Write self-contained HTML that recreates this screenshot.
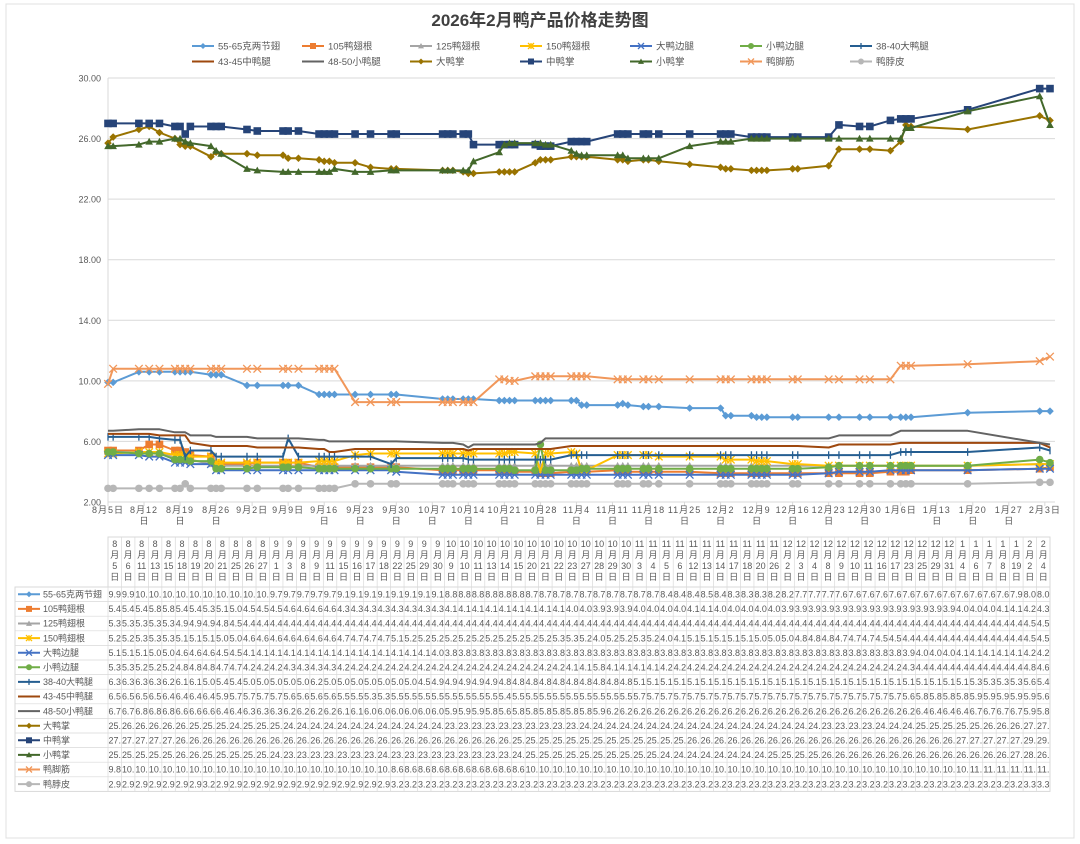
<!DOCTYPE html>
<html><head><meta charset="utf-8">
<style>
body{margin:0;background:#fff;font-family:"Liberation Sans","Noto Sans CJK SC",sans-serif;}
#wrap{position:relative;width:1080px;height:844px;overflow:hidden;}
</style></head>
<body>
<div id="wrap">
<svg id="svg" width="1080" height="844" xmlns="http://www.w3.org/2000/svg"></svg>
</div>
<script>
const dateLabels=["8/5","8/6","8/11","8/13","8/15","8/18","8/19","8/20","8/21","8/25","8/26","8/27","9/1","9/3","9/8","9/9","9/11","9/15","9/16","9/17","9/18","9/22","9/25","9/29","9/30","10/9","10/10","10/11","10/13","10/14","10/15","10/20","10/21","10/22","10/23","10/27","10/28","10/29","10/30","11/3","11/4","11/5","11/6","11/12","11/13","11/14","11/17","11/18","11/20","11/26","12/2","12/3","12/4","12/8","12/9","12/10","12/11","12/16","12/17","12/23","12/25","12/29","12/31","1/4","1/6","1/7","1/8","1/19","2/2","2/4"];
const seriesNames=["55-65克两节翅","105鸭翅根","125鸭翅根","150鸭翅根","大鸭边腿","小鸭边腿","38-40大鸭腿","43-45中鸭腿","48-50小鸭腿","大鸭掌","中鸭掌","小鸭掌","鸭脚筋","鸭脖皮"];
const s5565=[9.9,9.9,10.6,10.6,10.6,10.6,10.6,10.6,10.6,10.4,10.4,10.4,9.7,9.7,9.7,9.7,9.7,9.1,9.1,9.1,9.1,9.1,9.1,9.1,9.1,8.8,8.8,8.8,8.8,8.8,8.8,8.7,8.7,8.7,8.7,8.7,8.7,8.7,8.7,8.7,8.7,8.4,8.4,8.4,8.5,8.4,8.3,8.3,8.3,8.2,8.2,7.7,7.7,7.7,7.6,7.6,7.6,7.6,7.6,7.6,7.6,7.6,7.6,7.6,7.6,7.6,7.6,7.9,8.0,8.0];
const s105=[5.4,5.4,5.4,5.8,5.8,5.4,5.4,5.3,5.1,5.0,4.5,4.5,4.5,4.6,4.6,4.6,4.6,4.3,4.3,4.3,4.3,4.3,4.3,4.3,4.3,4.1,4.1,4.1,4.1,4.1,4.1,4.1,4.1,4.1,4.0,4.0,3.9,3.9,3.9,4.0,4.0,4.0,4.0,4.1,4.1,4.0,4.0,4.0,4.0,4.0,3.9,3.9,3.9,3.9,3.9,3.9,3.9,3.9,3.9,3.9,3.9,3.9,3.9,4.0,4.0,4.0,4.1,4.1,4.2,4.3];
const s125=[5.3,5.3,5.3,5.3,5.3,4.9,4.9,4.9,4.8,4.5,4.4,4.4,4.4,4.4,4.4,4.4,4.4,4.4,4.4,4.4,4.4,4.4,4.4,4.4,4.4,4.4,4.4,4.4,4.4,4.4,4.4,4.4,4.4,4.4,4.4,4.4,4.4,4.4,4.4,4.4,4.4,4.4,4.4,4.4,4.4,4.4,4.4,4.4,4.4,4.4,4.4,4.4,4.4,4.4,4.4,4.4,4.4,4.4,4.4,4.4,4.4,4.4,4.4,4.4,4.4,4.4,4.4,4.4,4.5,4.5];
const s150=[5.2,5.2,5.3,5.3,5.3,5.1,5.1,5.1,5.0,5.0,4.6,4.6,4.6,4.6,4.6,4.6,4.6,4.7,4.7,4.7,4.7,5.1,5.2,5.2,5.2,5.2,5.2,5.2,5.2,5.2,5.2,5.2,5.2,5.3,5.3,5.2,4.0,5.2,5.2,5.3,5.2,4.0,4.1,5.1,5.1,5.1,5.1,5.1,5.0,5.0,5.0,4.8,4.8,4.8,4.7,4.7,4.7,4.5,4.5,4.4,4.4,4.4,4.4,4.4,4.4,4.4,4.4,4.4,4.5,4.5];
const sBigSide=[5.1,5.1,5.1,5.0,5.0,4.6,4.6,4.6,4.5,4.5,4.1,4.1,4.1,4.1,4.1,4.1,4.1,4.1,4.1,4.1,4.1,4.1,4.1,4.1,4.0,3.8,3.8,3.8,3.8,3.8,3.8,3.8,3.8,3.8,3.8,3.8,3.8,3.8,3.8,3.8,3.8,3.8,3.8,3.8,3.8,3.8,3.8,3.8,3.8,3.8,3.8,3.8,3.8,3.8,3.8,3.8,3.8,3.8,3.8,3.9,4.0,4.0,4.0,4.1,4.1,4.1,4.1,4.1,4.2,4.2];
const sSmallSide=[5.3,5.3,5.2,5.2,5.2,4.8,4.8,4.8,4.7,4.7,4.2,4.2,4.2,4.3,4.3,4.3,4.3,4.2,4.2,4.2,4.2,4.2,4.2,4.2,4.2,4.2,4.2,4.2,4.2,4.2,4.2,4.2,4.2,4.2,4.1,4.1,5.8,4.1,4.1,4.1,4.1,4.2,4.2,4.2,4.2,4.2,4.2,4.2,4.2,4.2,4.2,4.2,4.2,4.2,4.2,4.2,4.2,4.2,4.2,4.3,4.4,4.4,4.4,4.4,4.4,4.4,4.4,4.4,4.8,4.6];
const s3840=[6.3,6.3,6.3,6.3,6.2,6.1,6.1,5.0,5.4,5.4,5.0,5.0,5.0,5.0,5.0,6.2,5.0,5.0,5.0,5.0,5.0,5.0,5.0,4.5,4.9,4.9,4.9,4.9,4.9,4.8,4.8,4.8,4.8,4.8,4.8,4.8,4.8,4.8,4.8,5.1,5.1,5.1,5.1,5.1,5.1,5.1,5.1,5.1,5.1,5.1,5.1,5.1,5.1,5.1,5.1,5.1,5.1,5.1,5.1,5.1,5.1,5.1,5.1,5.1,5.3,5.3,5.3,5.3,5.6,5.4];
const s4345=[6.5,6.5,6.5,6.5,6.4,6.4,6.4,6.4,5.9,5.7,5.7,5.7,5.7,5.6,5.6,5.6,5.6,5.5,5.5,5.3,5.3,5.5,5.5,5.5,5.5,5.5,5.5,5.5,5.5,5.4,5.5,5.5,5.5,5.5,5.5,5.5,5.5,5.5,5.5,5.7,5.7,5.7,5.7,5.7,5.7,5.7,5.7,5.7,5.7,5.7,5.7,5.7,5.7,5.7,5.7,5.7,5.7,5.7,5.7,5.6,5.8,5.8,5.8,5.8,5.9,5.9,5.9,5.9,5.9,5.6];
const s4850=[6.7,6.7,6.8,6.8,6.8,6.6,6.6,6.6,6.4,6.4,6.3,6.3,6.3,6.2,6.2,6.2,6.2,6.1,6.1,6.0,6.0,6.0,6.0,6.0,6.0,5.9,5.9,5.9,5.8,5.6,5.8,5.8,5.8,5.8,5.8,5.8,5.9,6.2,6.2,6.2,6.2,6.2,6.2,6.2,6.2,6.2,6.2,6.2,6.2,6.2,6.2,6.2,6.2,6.2,6.2,6.2,6.2,6.2,6.2,6.2,6.4,6.4,6.4,6.4,6.7,6.7,6.7,6.7,5.9,5.8];
const sBigPaw=[25.7,26.1,26.6,26.8,26.4,26.0,25.6,25.5,25.5,24.8,25.1,25.0,25.0,24.9,24.9,24.7,24.7,24.6,24.5,24.5,24.4,24.4,24.1,24.0,24.0,23.9,23.9,23.9,23.8,23.7,23.7,23.8,23.8,23.8,23.8,24.4,24.6,24.6,24.6,24.8,24.8,24.8,24.8,24.6,24.6,24.5,24.6,24.6,24.5,24.3,24.1,24.0,24.0,23.9,23.9,23.9,23.9,24.0,24.0,24.2,25.3,25.3,25.3,25.2,25.8,26.9,26.8,26.6,27.5,27.2];
const sMidPaw=[27.0,27.0,27.0,27.0,27.0,26.8,26.8,26.3,26.8,26.8,26.8,26.8,26.6,26.5,26.5,26.5,26.5,26.3,26.3,26.3,26.3,26.3,26.3,26.3,26.3,26.3,26.3,26.3,26.3,26.3,25.6,25.6,25.6,25.6,25.6,25.6,25.5,25.5,25.5,25.8,25.8,25.8,25.8,26.3,26.3,26.3,26.3,26.3,26.3,26.3,26.3,26.3,26.3,26.1,26.1,26.1,26.1,26.1,26.1,26.1,26.9,26.8,26.8,27.2,27.3,27.3,27.3,27.9,29.3,29.3];
const sSmallPaw=[25.5,25.5,25.6,25.8,25.8,26.0,26.0,25.8,25.7,25.5,25.2,25.0,24.0,23.9,23.8,23.8,23.8,23.8,23.8,23.8,24.0,23.8,23.8,23.9,23.9,23.9,23.9,23.9,23.9,23.9,24.5,25.1,25.6,25.7,25.7,25.7,25.7,25.6,25.6,25.2,25.0,24.9,24.9,24.9,24.9,24.7,24.7,24.7,24.7,25.5,25.8,25.8,25.8,26.0,26.0,26.0,26.0,26.0,26.0,26.0,26.0,26.0,26.0,26.0,26.0,26.7,26.7,27.8,28.8,26.9];
const sTendon=[9.8,10.8,10.8,10.8,10.8,10.8,10.8,10.8,10.8,10.8,10.8,10.8,10.8,10.8,10.8,10.8,10.8,10.8,10.8,10.8,10.8,8.6,8.6,8.6,8.6,8.6,8.6,8.6,8.6,8.6,8.6,10.1,10.1,10.0,10.0,10.3,10.3,10.3,10.3,10.3,10.3,10.3,10.3,10.1,10.1,10.1,10.1,10.1,10.1,10.1,10.1,10.1,10.1,10.1,10.1,10.1,10.1,10.1,10.1,10.1,10.1,10.1,10.1,10.1,11.0,11.0,11.0,11.1,11.3,11.6];
const sNeckSkin=[2.9,2.9,2.9,2.9,2.9,2.9,2.9,3.2,2.9,2.9,2.9,2.9,2.9,2.9,2.9,2.9,2.9,2.9,2.9,2.9,2.9,3.2,3.2,3.2,3.2,3.2,3.2,3.2,3.2,3.2,3.2,3.2,3.2,3.2,3.2,3.2,3.2,3.2,3.2,3.2,3.2,3.2,3.2,3.2,3.2,3.2,3.2,3.2,3.2,3.2,3.2,3.2,3.2,3.2,3.2,3.2,3.2,3.2,3.2,3.2,3.2,3.2,3.2,3.2,3.2,3.2,3.2,3.2,3.3,3.3];
const yTicks=[2,6,10,14,18,22,26,30];
const xTickLabels=["8月5日","8月12日","8月19日","8月26日","9月2日","9月9日","9月16日","9月23日","9月30日","10月7日","10月14日","10月21日","10月28日","11月4日","11月11日","11月18日","11月25日","12月2日","12月9日","12月16日","12月23日","12月30日","1月6日","1月13日","1月20日","1月27日","2月3日"];

const allSeries=[s5565,s105,s125,s150,sBigSide,sSmallSide,s3840,s4345,s4850,sBigPaw,sMidPaw,sSmallPaw,sTendon,sNeckSkin];
const colors=["#5b9bd5","#ed7d31","#a5a5a5","#ffc000","#4472c4","#70ad47","#255e91","#9e480e","#636363","#997300","#264478","#43682b","#f1975a","#b7b7b7"];
const markers=["diamond","square","triangle","star","x","circle","plus","none","none","diamond","square","triangle","x","circle"];

const svg=document.getElementById('svg');
const NS="http://www.w3.org/2000/svg";
function mk(tag,attrs,parent){const e=document.createElementNS(NS,tag);for(const k in attrs)e.setAttribute(k,attrs[k]);(parent||svg).appendChild(e);return e;}
const X0=108,X1=1050,Y0=502,Y1=78,totalDays=183;
function dayOf(lbl){const [m,d]=lbl.split('/').map(Number);const base=new Date(2025,7,5);const yr=m<8?2026:2025;return Math.round((new Date(yr,m-1,d)-base)/86400000);}
function xS(day){return X0+(X1-X0)*day/totalDays;}
function yS(v){return Y0-(v-2)/28*(Y0-Y1);}

const t=mk('text',{x:540,y:26,'text-anchor':'middle','font-size':17,'font-weight':'bold',fill:'#404040'});
t.textContent="2026年2月鸭产品价格走势图";



function marker(type,cx,cy,c,g,sz){
  sz=sz||3.5;
  if(type==='diamond')mk('polygon',{points:`${cx},${cy-sz} ${cx+sz},${cy} ${cx},${cy+sz} ${cx-sz},${cy}`,fill:c},g);
  else if(type==='square')mk('rect',{x:cx-sz,y:cy-sz,width:sz*2,height:sz*2,fill:c},g);
  else if(type==='triangle')mk('polygon',{points:`${cx},${cy-sz} ${cx+sz},${cy+sz*0.8} ${cx-sz},${cy+sz*0.8}`,fill:c},g);
  else if(type==='circle')mk('circle',{cx:cx,cy:cy,r:sz,fill:c},g);
  else if(type==='x')mk('path',{d:`M${cx-sz} ${cy-sz}L${cx+sz} ${cy+sz}M${cx-sz} ${cy+sz}L${cx+sz} ${cy-sz}`,stroke:c,'stroke-width':1.3},g);
  else if(type==='plus')mk('path',{d:`M${cx} ${cy-sz}L${cx} ${cy+sz}`,stroke:c,'stroke-width':1.3},g);
  else if(type==='star')mk('path',{d:`M${cx-sz} ${cy-sz}L${cx+sz} ${cy+sz}M${cx-sz} ${cy+sz}L${cx+sz} ${cy-sz}M${cx} ${cy-sz}L${cx} ${cy+sz}`,stroke:c,'stroke-width':1.3},g);
}

const legendX=[192,302,410,520,630,740,850];
seriesNames.forEach((n,i)=>{
  const row=Math.floor(i/7),col=i%7;
  const lx=legendX[col],ly=46+row*15.5;
  const g=mk('g',{});
  
  
  mk('line',{x1:lx,y1:ly,x2:lx+22,y2:ly,stroke:colors[i],'stroke-width':2},g);
  marker(markers[i],lx+11,ly,colors[i],g,3);
  const tx=mk('text',{x:lx+26,y:ly+3.5,'font-size':9.5,fill:'#595959'},g);
  tx.textContent=n;
});

yTicks.forEach(v=>{
  const gl=mk('line',{x1:X0,y1:yS(v),x2:X1+5,y2:yS(v),stroke:'#d9d9d9','stroke-width':1});
  
  
  const tl=mk('text',{x:101,y:yS(v)+3.5,'text-anchor':'end','font-size':9,fill:'#595959'});
  tl.textContent=v.toFixed(2);
  
  
});
mk('line',{x1:X0,y1:Y1,x2:X0,y2:Y0,stroke:'#d9d9d9'});
xTickLabels.forEach((l,i)=>{
  const x=xS(i*7);
  mk('line',{x1:x,y1:Y0,x2:x,y2:Y0+4,stroke:'#d9d9d9'});
  const tx=mk('text',{x:x,y:513,'text-anchor':'middle','font-size':9,fill:'#595959','letter-spacing':'1'});
  
  
  if(l.length>=5&&i>0){tx.textContent=l.slice(0,-1);const t2=mk('text',{x:x,y:524,'text-anchor':'middle','font-size':9,fill:'#595959'});t2.textContent='日';}
  else tx.textContent=l;
});

const days=dateLabels.map(dayOf);
allSeries.forEach((arr,si)=>{
  const g=mk('g',{});
  
  
  const d=arr.map((v,i)=>(i?'L':'M')+xS(days[i]).toFixed(1)+' '+yS(v).toFixed(1)).join('');
  mk('path',{d:d,fill:'none',stroke:colors[si],'stroke-width':2,'stroke-linejoin':'round'},g);
  if(markers[si]!=='none')arr.forEach((v,i)=>marker(markers[si],xS(days[i]),yS(v),colors[si],g,3.8));
});

const TX=108,TY=537,HH=50,RH=14.6,CW=(1050-108)/70;
const tb=mk('g',{});


mk('rect',{x:TX,y:TY,width:CW*70,height:HH,fill:'none',stroke:'#d9d9d9'},tb);
mk('rect',{x:15,y:TY+HH,width:TX-15+CW*70,height:RH*14,fill:'none',stroke:'#d9d9d9'},tb);
for(let i=0;i<=70;i++){mk('line',{x1:TX+i*CW,y1:TY,x2:TX+i*CW,y2:TY+HH+RH*14,stroke:'#d9d9d9','stroke-width':0.7},tb);}
for(let r=1;r<14;r++){mk('line',{x1:15,y1:TY+HH+r*RH,x2:TX+70*CW,y2:TY+HH+r*RH,stroke:'#d9d9d9','stroke-width':0.7},tb);}
dateLabels.forEach((l,i)=>{
  const [m,d]=l.split('/');
  const cx=TX+i*CW+CW/2;
  [m,'月',d,'日'].forEach((s,k)=>{const e=mk('text',{x:cx,y:TY+10+k*11,'text-anchor':'middle','font-size':9,fill:'#595959'},tb);e.textContent=s;});
});
allSeries.forEach((arr,si)=>{
  const y=TY+HH+si*RH;
  const lg=mk('g',{},tb);
  
  
  mk('line',{x1:18,y1:y+RH/2,x2:40,y2:y+RH/2,stroke:colors[si],'stroke-width':2},lg);
  marker(markers[si],29,y+RH/2,colors[si],lg,3);
  const nt=mk('text',{x:43,y:y+10.5,'font-size':9,fill:'#595959'},lg);nt.textContent=seriesNames[si];
  arr.forEach((v,i)=>{
    const s=v>=10?v.toFixed(1).slice(0,3):v.toFixed(1);
    const e=mk('text',{x:TX+i*CW+0.5,y:y+10.5,'font-size':9,fill:'#595959',textLength:CW-1,lengthAdjust:'spacingAndGlyphs'},lg);
    e.textContent=s;
  });
});
mk('rect',{x:6,y:4,width:1068,height:834,fill:'none',stroke:'#e0e0e0'});
</script>
</body></html>
